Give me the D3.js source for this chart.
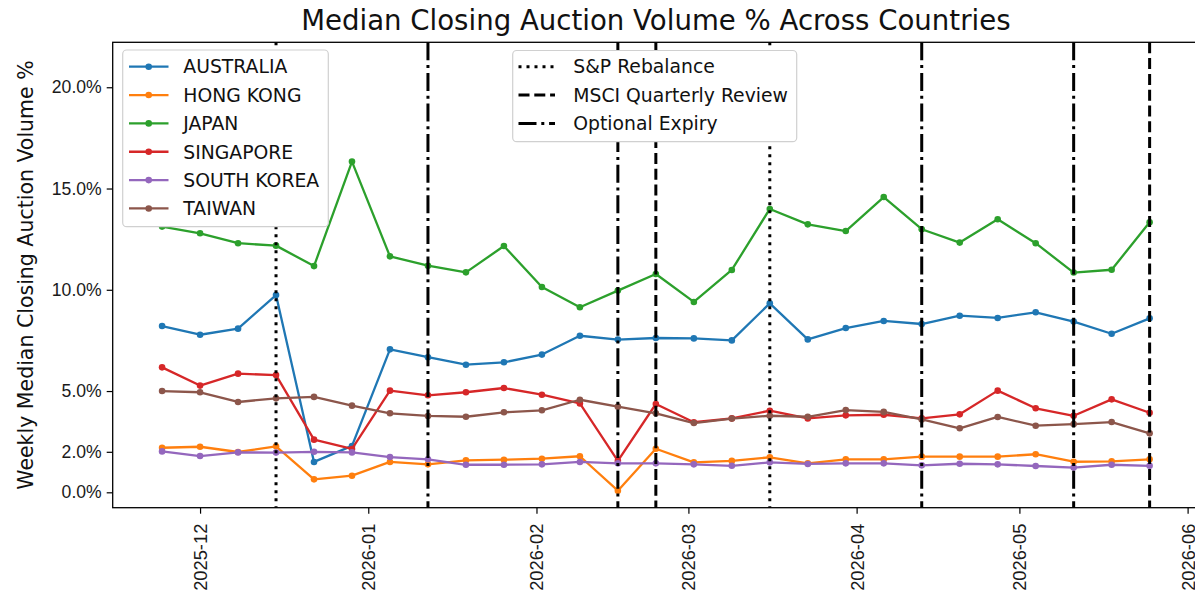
<!DOCTYPE html>
<html>
<head>
<meta charset="utf-8">
<script src="https://cdn.jsdelivr.net/npm/d3@7"></script>
<style>
  html, body { margin: 0; padding: 0; background: #fff; }
  svg { display: block; font-family: "DejaVu Sans", sans-serif; }
</style>
</head>
<body>
<svg id="chart" width="1195" height="605"></svg>
<script>
// ---------- data ----------
const weeks = ["2025-11-24","2025-12-01","2025-12-08","2025-12-15","2025-12-22","2025-12-29",
  "2026-01-05","2026-01-12","2026-01-19","2026-01-26","2026-02-02","2026-02-09","2026-02-16",
  "2026-02-23","2026-03-02","2026-03-09","2026-03-16","2026-03-23","2026-03-30","2026-04-06",
  "2026-04-13","2026-04-20","2026-04-27","2026-05-04","2026-05-11","2026-05-18","2026-05-25"];

const countries = ["AUSTRALIA","HONG KONG","JAPAN","SINGAPORE","SOUTH KOREA","TAIWAN"];

const australia = [8.21,7.78,8.08,9.74,1.50,2.29,7.06,6.67,6.30,6.42,6.80,7.73,7.54,7.62,7.60,7.50,9.33,7.55,8.11,8.46,8.31,8.72,8.61,8.89,8.43,7.83,8.59];
const hongKong  = [2.20,2.25,1.99,2.27,0.64,0.82,1.50,1.38,1.58,1.61,1.66,1.78,0.08,2.15,1.48,1.55,1.73,1.43,1.63,1.63,1.76,1.76,1.76,1.88,1.51,1.53,1.63];
const japan     = [13.12,12.79,12.30,12.18,11.17,16.33,11.65,11.19,10.86,12.16,10.14,9.14,9.96,10.78,9.40,10.98,13.99,13.23,12.90,14.58,12.99,12.33,13.48,12.30,10.85,10.99,13.33];
const singapore = [6.17,5.27,5.86,5.79,2.60,2.14,5.02,4.79,4.94,5.15,4.82,4.39,1.55,4.36,3.46,3.65,4.03,3.65,3.80,3.83,3.65,3.85,5.02,4.15,3.78,4.59,3.93];
const southKorea= [2.02,1.79,1.97,1.96,2.00,1.97,1.74,1.63,1.36,1.36,1.38,1.50,1.43,1.43,1.38,1.31,1.48,1.40,1.43,1.43,1.33,1.41,1.38,1.30,1.22,1.36,1.31];
const taiwan    = [5.00,4.94,4.46,4.64,4.71,4.28,3.90,3.77,3.73,3.95,4.05,4.57,4.23,3.90,3.42,3.64,3.78,3.73,4.06,3.97,3.60,3.16,3.72,3.29,3.37,3.47,2.91];

const seriesValues = [australia, hongKong, japan, singapore, southKorea, taiwan];
const colors = ["#1f77b4","#ff7f0e","#2ca02c","#d62728","#9467bd","#8c564b"];

const spRebalance  = ["2025-12-15","2026-03-16"];
const msciReview   = ["2026-02-23","2026-05-25"];
const optionExpiry = ["2026-01-12","2026-02-16","2026-04-13","2026-05-11"];
const eventNames = ["S&P Rebalance","MSCI Quarterly Review","Optional Expiry"];

const yTicks = [0, 2, 5, 10, 15, 20];
const yDomain = [-0.76, 22.22];
const xTickMonths = ["2025-12-01","2026-01-01","2026-02-01","2026-03-01","2026-04-01","2026-05-01","2026-06-01"];

// ---------- layout ----------
const svg = d3.select("#chart");
const M = { left: 112.7, right: 1199, top: 42.3, bottom: 507.7 };
const parse = d3.utcParse("%Y-%m-%d");
const dates = weeks.map(parse);

const ext = d3.extent(dates);
const pad = (ext[1] - ext[0]) * 0.05;
const x = d3.scaleUtc().domain([new Date(+ext[0] - pad), new Date(+ext[1] + pad)]).range([M.left, M.right]);
const y = d3.scaleLinear().domain(yDomain).range([M.bottom, M.top]);

// dash styles (matplotlib-like, lw=2 scaled)
const dashStyles = ["3,5", "11,4.8", "18,4.8,3,4.8"];
const eventSets = [spRebalance, msciReview, optionExpiry];

// ---------- data lines ----------
const line = d3.line().x((d, i) => x(dates[i])).y(d => y(d));
const gData = svg.append("g");
seriesValues.forEach((vals, k) => {
  gData.append("path").datum(vals)
    .attr("d", line)
    .attr("fill", "none")
    .attr("stroke", colors[k])
    .attr("stroke-width", 2.3)
    .attr("stroke-linejoin", "round");
  gData.selectAll(null).data(vals).enter().append("circle")
    .attr("cx", (d, i) => x(dates[i]))
    .attr("cy", d => y(d))
    .attr("r", 3.3)
    .attr("fill", colors[k]);
});

// ---------- event lines ----------
const gEv = svg.append("g");
eventSets.forEach((set, k) => {
  gEv.selectAll(null).data(set.map(parse)).enter().append("line")
    .attr("x1", d => x(d)).attr("x2", d => x(d))
    .attr("y1", M.top).attr("y2", M.bottom)
    .attr("stroke", "#000")
    .attr("stroke-width", 3)
    .attr("stroke-dasharray", dashStyles[k]);
});

// ---------- axes ----------
const xAxis = d3.axisBottom(x)
  .tickValues(xTickMonths.map(parse))
  .tickFormat(d3.utcFormat("%Y-%m"))
  .tickSize(6).tickPadding(5);
const gx = svg.append("g").attr("transform", `translate(0,${M.bottom})`).call(xAxis);
gx.select(".domain").remove();
gx.selectAll(".tick line").attr("stroke", "#000").attr("stroke-width", 1.2);
gx.selectAll(".tick text")
  .attr("font-size", 18.3)
  .attr("fill", "#1a1a1a")
  .attr("transform", "rotate(-90)")
  .attr("text-anchor", "end")
  .attr("x", -16)
  .attr("y", 0)
  .attr("dy", "0.35em");

const yAxis = d3.axisLeft(y)
  .tickValues(yTicks)
  .tickFormat(d => d.toFixed(1) + "%")
  .tickSize(6).tickPadding(5);
const gy = svg.append("g").attr("transform", `translate(${M.left},0)`).call(yAxis);
gy.select(".domain").remove();
gy.selectAll(".tick line").attr("stroke", "#000").attr("stroke-width", 1.2);
gy.selectAll(".tick text").attr("font-size", 17.6).attr("fill", "#1a1a1a");

// frame
svg.append("rect")
  .attr("x", M.left).attr("y", M.top)
  .attr("width", M.right - M.left).attr("height", M.bottom - M.top)
  .attr("fill", "none").attr("stroke", "#000").attr("stroke-width", 1.3);

// ---------- title / labels ----------
svg.append("text")
  .attr("x", (M.left + M.right) / 2).attr("y", 29.5)
  .attr("text-anchor", "middle")
  .attr("font-size", 27.6)
  .attr("fill", "#111")
  .text("Median Closing Auction Volume % Across Countries");

svg.append("text")
  .attr("transform", `translate(33,${(M.top + M.bottom) / 2}) rotate(-90)`)
  .attr("text-anchor", "middle")
  .attr("font-size", 20.5)
  .attr("fill", "#111")
  .text("Weekly Median Closing Auction Volume %");

// ---------- legend: countries ----------
const lg1 = svg.append("g");
lg1.append("rect")
  .attr("x", 122.7).attr("y", 50).attr("width", 205.6).attr("height", 176.7)
  .attr("rx", 4).attr("fill", "#fff").attr("stroke", "#d0d0d0").attr("stroke-width", 1.2);
countries.forEach((c, i) => {
  const cy = 66.7 + i * 28.35;
  lg1.append("line").attr("x1", 129).attr("x2", 168.5).attr("y1", cy).attr("y2", cy)
    .attr("stroke", colors[i]).attr("stroke-width", 2.3);
  lg1.append("circle").attr("cx", 148.7).attr("cy", cy).attr("r", 3.3).attr("fill", colors[i]);
  lg1.append("text").attr("x", 183.3).attr("y", cy).attr("dy", "0.36em")
    .attr("font-size", 18.8).attr("fill", "#111").text(c);
});

// ---------- legend: events ----------
const lg2 = svg.append("g");
lg2.append("rect")
  .attr("x", 512.7).attr("y", 50.5).attr("width", 284).attr("height", 91.2)
  .attr("rx", 4).attr("fill", "#fff").attr("stroke", "#d0d0d0").attr("stroke-width", 1.2);
eventNames.forEach((n, i) => {
  const cy = 66.7 + i * 28.35;
  lg2.append("line").attr("x1", 518.5).attr("x2", 555).attr("y1", cy).attr("y2", cy)
    .attr("stroke", "#000").attr("stroke-width", 3).attr("stroke-dasharray", dashStyles[i]);
  lg2.append("text").attr("x", 573.3).attr("y", cy).attr("dy", "0.36em")
    .attr("font-size", 18.8).attr("fill", "#111").text(n);
});
</script>
</body>
</html>
